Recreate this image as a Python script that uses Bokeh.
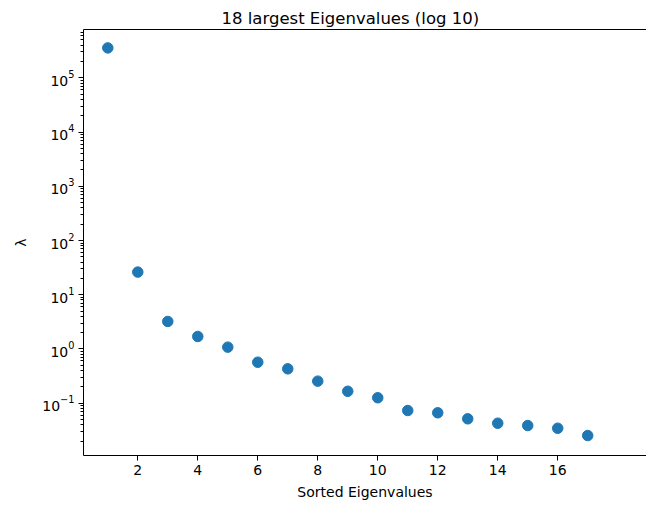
from bokeh.plotting import figure
from bokeh.models import FixedTicker, LinearAxis, Range1d
from bokeh.embed import file_html
from bokeh.resources import INLINE

x_vals = list(range(1, 18))
eigenvalues = [3.57e5, 26.2, 3.22, 1.70, 1.08, 0.57, 0.43, 0.255, 0.166, 0.126,
               0.0733, 0.0665, 0.0515, 0.0427, 0.0387, 0.0345, 0.0253]
x_ticks = [2, 4, 6, 8, 10, 12, 14, 16]
y_ticks = [1e-2, 1e-1, 1e0, 1e1, 1e2, 1e3, 1e4, 1e5, 1e6]
title_text = "18 largest Eigenvalues (log 10)"
x_label = "Sorted Eigenvalues"
y_label = "λ"

FONT = "DejaVu Sans"

p = figure(width=646, height=508, output_backend="svg", toolbar_location=None,
           y_axis_type="log", x_range=Range1d(0.19, 18.96),
           y_range=Range1d(0.01084, 7.8e5),
           min_border_left=83, min_border_right=0, min_border_top=29,
           min_border_bottom=53)

p.title.text = title_text
p.title.text_font = FONT
p.title.text_font_size = "16.5px"
p.title.text_font_style = "normal"
p.title.text_color = "black"
p.title.align = "left"
p.title.offset = 138
p.title.standoff = 4

p.outline_line_color = None
p.xgrid.visible = False
p.ygrid.visible = False
p.background_fill_color = "white"
p.border_fill_color = "white"

p.scatter(x_vals, eigenvalues, size=10.5, color="#1f77b4", line_color="#1f77b4")

minor = []
for d in range(-3, 7):
    for m in range(2, 10):
        minor.append(m * 10.0 ** d)

p.yaxis.ticker = FixedTicker(ticks=y_ticks, minor_ticks=minor)
p.xaxis.ticker = FixedTicker(ticks=x_ticks)

for ax in (p.xaxis[0], p.yaxis[0]):
    ax.axis_line_color = "black"
    ax.major_tick_line_color = "black"
    ax.minor_tick_line_color = "black"
    ax.major_tick_out = 5
    ax.major_tick_in = 0
    ax.minor_tick_out = 3
    ax.minor_tick_in = 0
    ax.major_label_text_font = FONT
    ax.major_label_text_font_size = "14px"
    ax.major_label_text_color = "black"
    ax.axis_label_text_font = FONT
    ax.axis_label_text_font_size = "14px"
    ax.axis_label_text_font_style = "normal"
    ax.axis_label_text_color = "black"

p.xaxis.axis_label = x_label
p.yaxis.axis_label = y_label
p.xaxis.major_label_standoff = 4
p.yaxis.major_label_standoff = 4
p.xaxis.axis_label_standoff = 6
p.yaxis.axis_label_standoff = 10

top_axis = LinearAxis(ticker=FixedTicker(ticks=[]), major_label_text_font_size="0px",
                      major_tick_line_color=None, minor_tick_line_color=None,
                      axis_line_color="black")
p.add_layout(top_axis, "above")

open("out.html", "w").write(file_html(p, INLINE))
